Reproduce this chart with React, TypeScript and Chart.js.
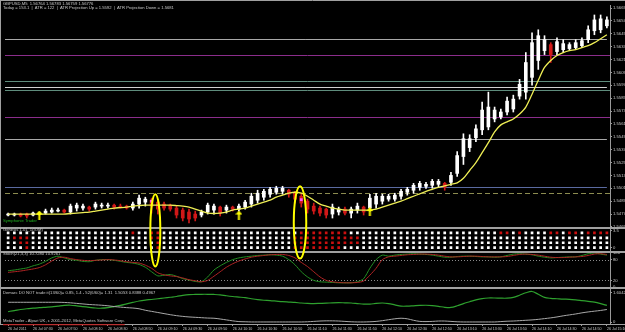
import React, { useEffect, useRef } from "react";
import { Chart, registerables } from "chart.js";

Chart.register(...registerables);

// ---------- categories (5-minute bars, 26 Jul 2011) ----------
const TIMES = [
  "07:10","07:15","07:20","07:25","07:30","07:35","07:40","07:45","07:50","07:55",
  "08:00","08:05","08:10","08:15","08:20","08:25","08:30","08:35","08:40","08:45","08:50","08:55",
  "09:00","09:05","09:10","09:15","09:20","09:25","09:30","09:35","09:40","09:45","09:50","09:55",
  "10:00","10:05","10:10","10:15","10:20","10:25","10:30","10:35","10:40","10:45","10:50","10:55",
  "11:00","11:05","11:10","11:15","11:20","11:25","11:30","11:35","11:40","11:45","11:50","11:55",
  "12:00","12:05","12:10","12:15","12:20","12:25","12:30","12:35","12:40","12:45","12:50","12:55",
  "13:00","13:05","13:10","13:15","13:20","13:25","13:30","13:35","13:40","13:45","13:50","13:55",
  "14:00","14:05","14:10","14:15","14:20","14:25","14:30","14:35","14:40","14:45","14:50","14:55",
  "15:00","15:05","15:10",
];

const TIME_TICKS = [
  "26 Jul 2011","26 Jul 07:30","26 Jul 07:50","26 Jul 08:10","26 Jul 08:30","26 Jul 08:50",
  "26 Jul 09:10","26 Jul 09:30","26 Jul 09:50","26 Jul 10:10","26 Jul 10:30","26 Jul 10:50",
  "26 Jul 11:10","26 Jul 11:30","26 Jul 11:50","26 Jul 12:10","26 Jul 12:30","26 Jul 12:50",
  "26 Jul 13:10","26 Jul 13:30","26 Jul 13:50","26 Jul 14:10","26 Jul 14:30","26 Jul 14:50",
  "26 Jul 15:10",
];

// ---------- GBPUSD M5 candles ----------
const OPEN = [
  1.54761,1.54761,1.54770,1.54770,1.54761,1.54770,1.54779,1.54789,1.54798,1.54807,
  1.54789,1.54826,1.54826,1.54835,1.54835,1.54844,1.54844,1.54853,1.54844,1.54844,
  1.54826,1.54863,1.54881,1.54899,1.54881,1.54863,1.54853,1.54826,1.54807,1.54789,
  1.54770,1.54761,1.54789,1.54807,1.54835,1.54807,1.54835,1.54816,1.54835,1.54863,
  1.54899,1.54927,1.54955,1.54973,1.54982,1.54992,1.54973,1.54936,1.54890,1.54844,
  1.54826,1.54816,1.54770,1.54789,1.54816,1.54779,1.54807,1.54835,1.54826,1.54863,
  1.54890,1.54909,1.54909,1.54936,1.54973,1.54992,1.55019,1.55029,1.55038,1.55047,
  1.55056,1.55066,1.55149,1.55306,1.55389,1.55481,1.55555,1.55582,1.55656,1.55675,
  1.55721,1.55749,1.55869,1.55906,1.56044,1.56201,1.56293,1.56349,1.56284,1.56302,
  1.56312,1.56321,1.56339,1.56395,1.56478,1.56487,1.56524,
];
const HIGH = [
  1.54779,1.54779,1.54779,1.54779,1.54789,1.54789,1.54816,1.54826,1.54826,1.54816,
  1.54863,1.54872,1.54863,1.54844,1.54881,1.54872,1.54872,1.54863,1.54863,1.54853,
  1.54881,1.54946,1.54927,1.54918,1.54899,1.54881,1.54863,1.54844,1.54826,1.54816,
  1.54798,1.54807,1.54872,1.54863,1.54844,1.54853,1.54844,1.54863,1.54899,1.54964,
  1.54992,1.55001,1.55019,1.55029,1.55029,1.55001,1.54982,1.54964,1.54909,1.54872,
  1.54844,1.54826,1.54863,1.54835,1.54835,1.54835,1.54872,1.54844,1.54955,1.54964,
  1.54955,1.54955,1.54964,1.55001,1.55019,1.55056,1.55075,1.55066,1.55093,1.55093,
  1.55066,1.55158,1.55352,1.55518,1.55509,1.55601,1.55813,1.55906,1.55767,1.55749,
  1.55859,1.55878,1.56025,1.56275,1.56459,1.56487,1.56432,1.56367,1.56413,1.56395,
  1.56367,1.56395,1.56413,1.56524,1.56625,1.56625,1.56607,
];
const LOW = [
  1.54752,1.54752,1.54743,1.54733,1.54752,1.54761,1.54770,1.54779,1.54789,1.54779,
  1.54770,1.54798,1.54807,1.54798,1.54816,1.54826,1.54826,1.54816,1.54826,1.54816,
  1.54807,1.54826,1.54844,1.54779,1.54770,1.54807,1.54798,1.54733,1.54706,1.54687,
  1.54706,1.54743,1.54770,1.54770,1.54752,1.54779,1.54798,1.54798,1.54816,1.54835,
  1.54872,1.54899,1.54927,1.54955,1.54955,1.54927,1.54872,1.54835,1.54779,1.54770,
  1.54752,1.54733,1.54733,1.54761,1.54761,1.54733,1.54779,1.54761,1.54798,1.54826,
  1.54863,1.54890,1.54890,1.54909,1.54946,1.54964,1.54992,1.55010,1.55010,1.55019,
  1.54992,1.55038,1.55121,1.55232,1.55352,1.55444,1.55509,1.55555,1.55629,1.55656,
  1.55693,1.55721,1.55841,1.55841,1.55970,1.56118,1.56256,1.56182,1.56256,1.56275,
  1.56293,1.56302,1.56321,1.56367,1.56441,1.56459,1.56505,
];
const CLOSE = [
  1.54770,1.54770,1.54752,1.54752,1.54779,1.54779,1.54798,1.54807,1.54807,1.54789,
  1.54844,1.54853,1.54844,1.54816,1.54863,1.54853,1.54853,1.54835,1.54835,1.54826,
  1.54863,1.54918,1.54909,1.54844,1.54816,1.54826,1.54816,1.54761,1.54733,1.54724,
  1.54733,1.54789,1.54853,1.54844,1.54779,1.54835,1.54816,1.54844,1.54881,1.54936,
  1.54964,1.54982,1.55001,1.55010,1.55010,1.54955,1.54909,1.54872,1.54816,1.54798,
  1.54779,1.54761,1.54835,1.54816,1.54779,1.54816,1.54844,1.54789,1.54918,1.54936,
  1.54936,1.54936,1.54946,1.54982,1.55001,1.55038,1.55056,1.55047,1.55075,1.55075,
  1.55019,1.55130,1.55315,1.55472,1.55472,1.55564,1.55739,1.55767,1.55739,1.55721,
  1.55822,1.55841,1.55979,1.56182,1.56367,1.56432,1.56395,1.56256,1.56376,1.56358,
  1.56349,1.56367,1.56385,1.56487,1.56579,1.56589,1.56579,
];
// yellow moving average
const MA = [
  1.54770,1.54770,1.54770,1.54770,1.54770,1.54770,1.54770,1.54770,1.54770,1.54770,
  1.54775,1.54779,1.54784,1.54789,1.54798,1.54807,1.54816,1.54826,1.54830,1.54835,
  1.54844,1.54849,1.54853,1.54853,1.54853,1.54853,1.54853,1.54849,1.54844,1.54835,
  1.54816,1.54798,1.54779,1.54775,1.54779,1.54789,1.54807,1.54816,1.54826,1.54844,
  1.54863,1.54881,1.54899,1.54927,1.54946,1.54964,1.54973,1.54964,1.54936,1.54899,
  1.54863,1.54844,1.54826,1.54816,1.54807,1.54807,1.54807,1.54807,1.54807,1.54816,
  1.54835,1.54853,1.54872,1.54890,1.54913,1.54936,1.54959,1.54982,1.55001,1.55019,
  1.55033,1.55047,1.55061,1.55103,1.55176,1.55250,1.55342,1.55435,1.55536,1.55601,
  1.55629,1.55656,1.55702,1.55767,1.55887,1.56016,1.56136,1.56201,1.56247,1.56275,
  1.56293,1.56302,1.56321,1.56339,1.56367,1.56404,1.56441,
];

// horizontal price levels
const LEVEL_PRICES = [1.56404, 1.56256, 1.56007, 1.55952, 1.55924, 1.55675, 1.55472, 1.55019, 1.54964];
const LEVEL_COLORS = ["#a8a8a8", "#8b2d8b", "#5e8c7c", "#d0d0d0", "#5e8c7c", "#8b2d8b", "#a8a8a8", "#5a6aa0", "#8c8c50"];
const LEVEL_DASH = [[], [], [], [], [], [], [], [], [5, 3]];
const LEVEL_TO_LAST_BAR = [true, false, false, true, false, false, true, true, false];

// signal arrows & markers
const ARROW_BARS = [5, 37, 58];
const ARROW_PRICES = [1.54761, 1.54761, 1.54793];
const MARKER_BARS = [23, 47];
const MARKER_PRICES = [1.5489, 1.54904];

// hand-drawn ellipses
const ELLIPSE_BARS = [23.6, 46.8];
const ELLIPSE_HALF_WIDTH_BARS = [0.8, 1.0];
const ELLIPSE_TOP_PRICES = [1.54955, 1.55029];
const ELLIPSE_BOTTOM_STOCH = [60, 83];

// Genesis matrix: red cells per row (rows top -> bottom)
const GENESIS_ROW_VALUES = [3, 2, 1, 0];
const GENESIS_RED = [
  [20, 23, 24, 47, 48, 49, 50, 51, 52, 53, 54, 79, 80, 82, 87, 88, 90, 91, 93, 94, 95, 96],
  [1, 2, 3, 23, 24, 46, 47, 48, 49, 50, 51, 52, 53, 54, 55, 56],
  [2, 3, 24, 46, 47, 48, 49, 50, 51, 52, 53, 54, 55, 56],
  [3, 24, 46, 47, 48, 49, 50, 51, 52, 53],
];

// Stochastic(21,3,3)
const STOCH_K = [
  48,50,53,56,62,67,75,85,90,85, 80,78,75,74,78,80,80,78,75,72,
  70,66,58,45,33,35,37,32,25,21, 17,16,30,50,62,72,80,85,88,90,
  92,93,94,93,90,80,65,45,30,20, 16,15,14,13,13,13,16,25,55,80,
  93,90,93,95,96,97,96,95,93,90, 87,87,89,90,90,89,88,88,87,88,
  92,96,97,96,94,90,87,85,86,87, 88,88,92,97,99,96,93,
];
const STOCH_D = [
  43,45,47,50,53,57,65,76,85,87, 83,80,78,77,78,79,80,79,77,74,
  72,70,64,55,42,36,33,31,27,22, 19,16,20,32,45,58,68,76,82,87,
  90,92,94,95,95,92,85,72,60,45, 30,20,16,14,13,13,14,18,35,55,
  80,88,90,92,94,95,96,96,95,93, 90,88,88,89,90,90,89,88,88,88,
  89,92,95,96,95,93,90,87,86,86, 87,88,89,92,96,97,95,
];
const STOCH_LEVELS = [80, 20];

// Demarc
const DEMARC_FAST = [
  0.57,0.62,0.68,0.72,0.75,0.78,0.80,0.82,0.86,0.90, 0.91,0.88,0.84,0.80,0.76,0.75,0.78,0.84,0.90,0.98,
  1.06,1.14,1.19,1.22,1.26,1.30,1.34,1.38,1.44,1.48, 1.49,1.50,1.50,1.49,1.47,1.42,1.38,1.35,1.32,1.26,
  1.21,1.18,1.16,1.13,1.10,1.08,1.06,1.03,1.01,1.00, 1.01,1.02,1.04,1.05,1.04,1.03,1.00,0.97,0.97,1.01,
  1.03,1.00,0.93,0.86,0.86,0.88,0.90,0.91,0.89,0.85, 0.80,0.79,0.88,1.00,1.10,1.20,1.27,1.30,1.30,1.29,
  1.29,1.33,1.45,1.58,1.65,1.50,1.33,1.28,1.26,1.24, 1.23,1.20,1.16,1.12,1.08,1.00,0.90,
];
const DEMARC_SLOW = [
  1.07,1.07,1.07,1.07,1.07,1.07,1.07,1.07,1.07,1.06, 1.04,1.01,0.98,0.95,0.93,0.91,0.88,0.84,0.81,0.78,
  0.76,0.72,0.64,0.58,0.52,0.46,0.40,0.35,0.31,0.28, 0.26,0.24,0.22,0.21,0.17,0.12,0.07,0.03,0.02,0.01,
  0.01,0.01,0.01,0.01,0.01,0.01,0.01,0.01,0.02,0.04, 0.06,0.07,0.07,0.06,0.04,0.02,0.01,0.01,0.02,0.04,
  0.08,0.13,0.18,0.21,0.18,0.10,0.04,0.03,0.04,0.06, 0.06,0.04,0.02,0.01,0.01,0.01,0.01,0.01,0.01,0.03,
  0.05,0.06,0.08,0.10,0.12,0.15,0.19,0.23,0.28,0.34, 0.39,0.44,0.50,0.55,0.59,0.63,0.68,
];

// axis tick labels
const PRICE_TICKS = [
  "1.56690","1.56570","1.56450","1.56330","1.56210","1.56090","1.55970","1.55850","1.55730",
  "1.55610","1.55490","1.55370","1.55250","1.55130","1.55010","1.54890","1.54770","1.54650",
];
const GENESIS_TICKS = ["3.5", "0"];
const STOCH_TICKS = ["100", "80", "20", "0"];
const DEMARC_TICKS = ["1.6042", "0"];

const FONT = "'Liberation Sans', Arial, sans-serif";
const AXIS_COLOR = "#9a9a9a";
const LABEL_COLOR = "#c8c8c8";

function yAxis(weight: number, min: number, max: number, labels: string[]) {
  return {
    type: "linear",
    position: "right",
    stack: "panes",
    stackWeight: weight,
    min,
    max,
    afterBuildTicks: (s: any) => {
      s.ticks = labels.map((l) => ({ value: Number(l) }));
    },
    afterFit: (s: any) => {
      s.width = 15;
      s.paddingTop = 0;
      s.paddingBottom = 0;
    },
    ticks: {
      autoSkip: false,
      color: LABEL_COLOR,
      font: { size: 4.2, family: FONT },
      padding: 1,
      callback: (_v: any, i: number) => labels[i],
    },
    grid: { drawOnChartArea: false, drawTicks: true, tickLength: 2, color: AXIS_COLOR },
    border: { display: true, color: AXIS_COLOR },
  };
}

const panelPlugin = {
  id: "panels",
  beforeDatasetsDraw(chart: any) {
    const { ctx, chartArea, scales } = chart;
    const xs = scales.x;
    const ym = scales.yMain;
    const ys = scales.yStoch;
    const lastX = xs.getPixelForValue(TIMES.length - 1);
    ctx.save();
    ctx.lineWidth = 1;
    LEVEL_PRICES.forEach((p, k) => {
      const y = Math.round(ym.getPixelForValue(p)) + 0.5;
      ctx.strokeStyle = LEVEL_COLORS[k];
      ctx.setLineDash(LEVEL_DASH[k]);
      ctx.beginPath();
      ctx.moveTo(chartArea.left, y);
      ctx.lineTo(LEVEL_TO_LAST_BAR[k] ? lastX : chartArea.right, y);
      ctx.stroke();
    });
    ctx.strokeStyle = "#8a8a8a";
    ctx.setLineDash([1, 2]);
    STOCH_LEVELS.forEach((v) => {
      const y = Math.round(ys.getPixelForValue(v)) + 0.5;
      ctx.beginPath();
      ctx.moveTo(chartArea.left, y);
      ctx.lineTo(chartArea.right, y);
      ctx.stroke();
    });
    ctx.restore();
  },
  afterDraw(chart: any) {
    const { ctx, chartArea, scales, width } = chart;
    ctx.save();
    ctx.strokeStyle = "#a0a0a0";
    ctx.lineWidth = 2;
    ["yGen", "yStoch", "yDem"].forEach((id) => {
      const y = Math.round(scales[id].top);
      ctx.beginPath();
      ctx.moveTo(0, y);
      ctx.lineTo(width, y);
      ctx.stroke();
    });
    ctx.lineWidth = 1;
    const yb = Math.round(chartArea.bottom) + 0.5;
    ctx.beginPath();
    ctx.moveTo(0, yb);
    ctx.lineTo(width, yb);
    ctx.moveTo(0, 0.5);
    ctx.lineTo(width, 0.5);
    ctx.moveTo(0.5, 0);
    ctx.lineTo(0.5, chartArea.bottom);
    ctx.stroke();

    const xs = scales.x;
    ctx.strokeStyle = "#ffff00";
    ctx.lineWidth = 2;
    ELLIPSE_BARS.forEach((b, k) => {
      const cx = xs.getPixelForValue(b);
      const rx = Math.abs(xs.getPixelForValue(b + ELLIPSE_HALF_WIDTH_BARS[k]) - cx);
      const top = scales.yMain.getPixelForValue(ELLIPSE_TOP_PRICES[k]);
      const bot = scales.yStoch.getPixelForValue(ELLIPSE_BOTTOM_STOCH[k]);
      ctx.beginPath();
      ctx.ellipse(cx, (top + bot) / 2, rx, (bot - top) / 2, 0, 0, Math.PI * 2);
      ctx.stroke();
    });
    ctx.restore();
  },
};

function Txt(props: { top: number; left?: number; color?: string; children: any; extra?: any }) {
  return (
    <div
      style={{
        position: "absolute",
        top: props.top,
        left: props.left ?? 3,
        fontFamily: FONT,
        fontSize: 8,
        lineHeight: "8px",
        color: props.color ?? LABEL_COLOR,
        whiteSpace: "nowrap",
        transform: "scale(0.52)",
        transformOrigin: "0 0",
        ...(props.extra || {}),
      }}
    >
      {props.children}
    </div>
  );
}

export default function App() {
  const ref = useRef<HTMLCanvasElement>(null);

  useEffect(() => {
    document.body.style.margin = "0";
    document.body.style.background = "#000";
    const canvas = ref.current;
    if (!canvas) return;

    const arrow = document.createElement("canvas");
    arrow.width = 7;
    arrow.height = 9;
    const g = arrow.getContext("2d")!;
    g.fillStyle = "#ffff00";
    g.beginPath();
    g.moveTo(3.5, 0);
    g.lineTo(7, 4);
    g.lineTo(4.5, 4);
    g.lineTo(4.5, 9);
    g.lineTo(2.5, 9);
    g.lineTo(2.5, 4);
    g.lineTo(0, 4);
    g.closePath();
    g.fill();

    const candleColor = OPEN.map((o, i) => (CLOSE[i] >= o ? "#ffffff" : "#d01818"));

    const genesisSets = GENESIS_ROW_VALUES.map((val, r) => ({
      type: "line",
      yAxisID: "yGen",
      data: TIMES.map(() => val),
      showLine: false,
      pointStyle: "rect",
      pointRadius: 1.9,
      pointBorderWidth: 0,
      pointBackgroundColor: TIMES.map((_, i) => (GENESIS_RED[r].includes(i) ? "#cc1010" : "#ffffff")),
      order: 1,
    }));

    Chart.defaults.font.family = FONT;

    const chart = new Chart(canvas, {
      type: "bar",
      data: {
        labels: TIMES,
        datasets: [
          {
            type: "bar",
            yAxisID: "yMain",
            data: LOW.map((l, i) => [l, HIGH[i]]),
            backgroundColor: candleColor,
            barThickness: 1,
            grouped: false,
            borderWidth: 0,
            minBarLength: 1,
            order: 6,
          },
          {
            type: "bar",
            yAxisID: "yMain",
            data: OPEN.map((o, i) => [o, CLOSE[i]]),
            backgroundColor: candleColor,
            barThickness: 3,
            grouped: false,
            borderWidth: 0,
            minBarLength: 1,
            order: 5,
          },
          {
            type: "line",
            yAxisID: "yMain",
            data: MA,
            borderColor: "#eeee55",
            borderWidth: 1.3,
            pointRadius: 0,
            tension: 0.3,
            order: 4,
          },
          {
            type: "line",
            yAxisID: "yMain",
            data: ARROW_BARS.map((b, k) => ({ x: TIMES[b], y: ARROW_PRICES[k] })),
            showLine: false,
            pointStyle: arrow,
            pointRadius: 4,
            order: 2,
          },
          {
            type: "line",
            yAxisID: "yMain",
            data: MARKER_BARS.map((b, k) => ({ x: TIMES[b], y: MARKER_PRICES[k] })),
            showLine: false,
            pointStyle: "rect",
            pointRadius: 2,
            pointBorderWidth: 0,
            pointBackgroundColor: "#ff55ff",
            order: 2,
          },
          ...genesisSets,
          {
            type: "line",
            yAxisID: "yStoch",
            data: STOCH_D,
            borderColor: "#b02424",
            borderWidth: 1,
            pointRadius: 0,
            tension: 0.25,
            order: 3,
          },
          {
            type: "line",
            yAxisID: "yStoch",
            data: STOCH_K,
            borderColor: "#238f23",
            borderWidth: 1,
            pointRadius: 0,
            tension: 0.25,
            order: 3,
          },
          {
            type: "line",
            yAxisID: "yDem",
            data: DEMARC_SLOW,
            borderColor: "#a8a8a8",
            borderWidth: 1,
            pointRadius: 0,
            tension: 0.3,
            order: 3,
          },
          {
            type: "line",
            yAxisID: "yDem",
            data: DEMARC_FAST,
            borderColor: "#2ea02e",
            borderWidth: 1.2,
            pointRadius: 0,
            tension: 0.3,
            order: 3,
          },
        ] as any,
      },
      options: {
        responsive: false,
        animation: false,
        events: [],
        layout: { padding: { top: 2, left: 2, right: 0, bottom: 0 } },
        plugins: { legend: { display: false }, tooltip: { enabled: false } },
        scales: {
          x: {
            type: "category",
            offset: true,
            grid: {
              display: true,
              drawOnChartArea: false,
              drawTicks: true,
              tickLength: 2,
              offset: false,
              color: (c: any) => (c.index % 4 === 0 ? AXIS_COLOR : "rgba(0,0,0,0)"),
            },
            border: { display: false },
            ticks: {
              autoSkip: false,
              maxRotation: 0,
              minRotation: 0,
              align: "start",
              padding: 0.5,
              color: LABEL_COLOR,
              font: { size: 3.6, family: FONT },
              callback: (_v: any, i: number) => (i % 4 === 0 ? TIME_TICKS[i / 4] : ""),
            },
            afterFit: (s: any) => {
              s.height = 8;
              s.paddingLeft = 0;
              s.paddingRight = 0;
            },
          },
          yMain: yAxis(225, 1.54641, 1.56718, PRICE_TICKS),
          yGen: yAxis(24, -0.8, 4.0, GENESIS_TICKS),
          yStoch: yAxis(37, -3, 103, STOCH_TICKS),
          yDem: yAxis(36, -0.1, 1.82, DEMARC_TICKS),
        } as any,
      },
      plugins: [panelPlugin],
    } as any);

    return () => chart.destroy();
  }, []);

  return (
    <div
      style={{
        position: "fixed",
        left: 0,
        top: 0,
        width: 625,
        height: 332,
        background: "#000",
        overflow: "hidden",
      }}
    >
      <canvas ref={ref} width={625} height={332} style={{ display: "block", width: 625, height: 332 }} />
      <Txt top={1.8}>GBPUSD,M5&nbsp; 1.56764 1.56783 1.56759 1.56776</Txt>
      <Txt top={6.4}>
        Today = 153.1 &nbsp;|&nbsp; ATR = 122 &nbsp;|&nbsp; ATR Projection Up = 1.5592 &nbsp;|&nbsp; ATR Projection Down = 1.5681
      </Txt>
      <Txt top={218.6} color="#1fb01f">Symphonie Trader</Txt>
      <Txt top={228.2}>Genesis 1.01_1(IOM)</Txt>
      <Txt top={252.2}>Stoch(21,3,3) 10.7280 10.9261</Txt>
      <Txt top={290.6}>
        Demarc DO NOT trade it(13/60)= 0.85, 1.4 - 52(6/60)= 1.31&nbsp; 1.5053 0.8388 0.4967
      </Txt>
      <Txt top={319.4} extra={{ borderBottom: "2px solid #c01818", paddingBottom: 2 }}>
        MetaTrader - Alpari UK, c 2001-2012, MetaQuotes Software Corp.
      </Txt>
    </div>
  );
}
